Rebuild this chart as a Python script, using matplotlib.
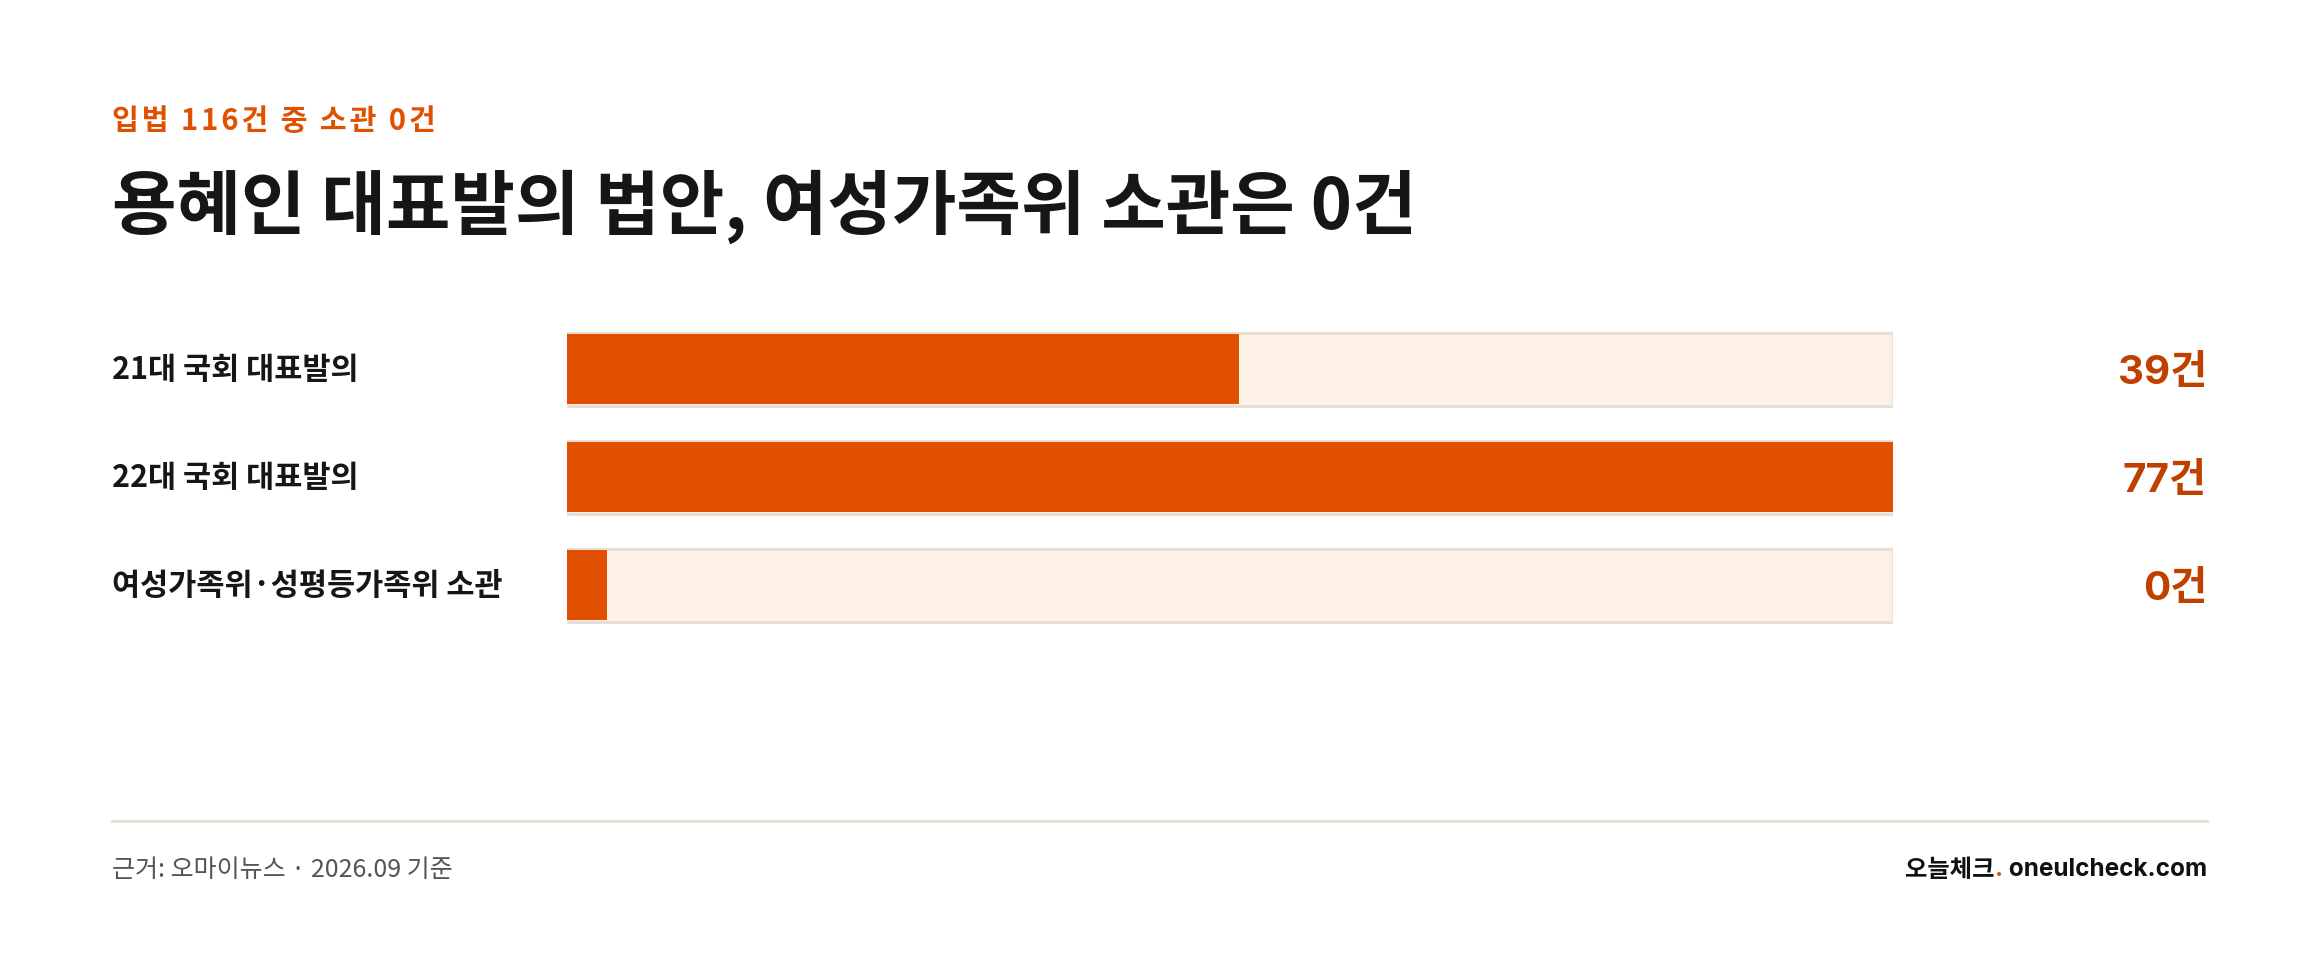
import matplotlib
matplotlib.use("Agg")
import matplotlib.pyplot as plt
from matplotlib.transforms import blended_transform_factory

# données
categories = ["21대 국회 대표발의", "22대 국회 대표발의", "여성가족위·성평등가족위 소관"]
valeurs = [39, 77, 0]
etiquettes = ["39건", "77건", "0건"]
surtitre = "입법 116건 중 소관 0건"
titre = "용혜인 대표발의 법안, 여성가족위 소관은 0건"
source = "근거: 오마이뉴스 · 2026.09 기준"

ORANGE = "#E05000"
ORANGE_FONCE = "#C04000"
PISTE = "#FDF0E7"
BORD = "#E8DED4"
KR = ["Noto Sans CJK KR", "DejaVu Sans"]
LATIN_KR = ["Inter", "Noto Sans CJK KR", "DejaVu Sans"]

W, H = 2320, 966
fig = plt.figure(figsize=(W / 100, H / 100), dpi=100)
fig.patch.set_facecolor("white")


def fx(px):
    return px / W


def fy(py):
    return 1 - py / H


# zone des barres (pixels)
gauche, droite = 567, 1893
haut, bas = 315, 639
ax = fig.add_axes([fx(gauche), fy(bas), fx(droite - gauche), (bas - haut) / H])
ax.set_xlim(0, max(valeurs))
ax.set_ylim(len(categories) - 0.5, -0.5)
ax.axis("off")

pos = list(range(len(categories)))
vmax = max(valeurs)
# piste de fond
ax.barh(pos, [vmax] * len(pos), height=73 / 108, color=PISTE,
        edgecolor=BORD, linewidth=3 * 0.72, zorder=1)
# barres (largeur minimale pour la valeur nulle)
largeurs = [max(v, vmax * 0.03) for v in valeurs]
ax.barh(pos, largeurs, height=70 / 108, color=ORANGE, linewidth=0, zorder=2)

trans = blended_transform_factory(fig.transFigure, ax.transData)
for i, (cat, lab) in enumerate(zip(categories, etiquettes)):
    ax.text(fx(112), i + 0.01, cat, transform=trans,
            ha="left", va="center", fontsize=22, fontweight="bold",
            color="#161616", family=KR)
    ax.text(fx(2207), i + 0.04, lab, transform=trans, ha="right", va="center",
            fontsize=29, fontweight="bold", color=ORANGE_FONCE, family=LATIN_KR)

# titres (léger espacement pour le surtitre)
fig.text(fx(112), fy(121), "\u200a".join(surtitre), ha="left", va="center",
         fontsize=21, fontweight="bold", color=ORANGE, family=KR)
fig.text(fx(112), fy(207), titre, ha="left", va="center", fontsize=50.5,
         fontweight="black", color="#161616", family=KR)

# pied de page
fig.add_artist(plt.Line2D([fx(112), fx(2207)], [fy(821), fy(821)],
                          transform=fig.transFigure, color=BORD, linewidth=3 * 0.72))
fig.text(fx(112), fy(870), source, ha="left", va="center", fontsize=18,
         color="#555555", family=KR)

rend = fig.canvas.get_renderer()
t1 = fig.text(fx(2207), fy(870), " oneulcheck.com", ha="right", va="center",
              fontsize=17.5, fontweight="bold", color="#111111", family=LATIN_KR)
x0 = t1.get_window_extent(rend).x0
t2 = fig.text(x0 / W, fy(870), ".", ha="right", va="center",
              fontsize=17.5, fontweight="bold", color=ORANGE, family=LATIN_KR)
x1 = t2.get_window_extent(rend).x0
fig.text(x1 / W, fy(870), "오늘체크", ha="right", va="center",
         fontsize=17.5, fontweight="bold", color="#111111", family=KR)

fig.savefig("out.png", dpi=100, facecolor="white")
